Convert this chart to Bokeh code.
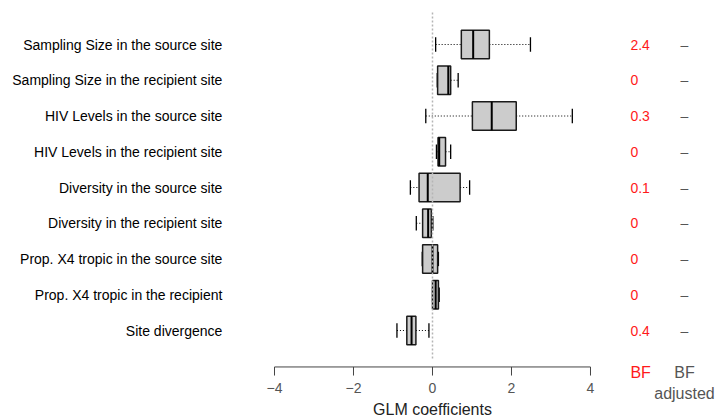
from bokeh.plotting import figure
from bokeh.models import Range1d, ColumnDataSource
from bokeh.core.properties import value
from bokeh.embed import file_html
from bokeh.resources import INLINE

predictors = [
    "Sampling Size in the source site",
    "Sampling Size in the recipient site",
    "HIV Levels in the source site",
    "HIV Levels in the recipient site",
    "Diversity in the source site",
    "Diversity in the recipient site",
    "Prop. X4 tropic in the source site",
    "Prop. X4 tropic in the recipient",
    "Site divergence",
]
whisker_lo = [0.08, 0.12, -0.17, 0.10, -0.56, -0.41, -0.26, 0.00, -0.90]
q1 = [0.73, 0.13, 1.01, 0.14, -0.34, -0.25, -0.25, 0.00, -0.65]
median = [1.03, 0.40, 1.50, 0.17, -0.12, -0.11, 0.00, 0.08, -0.53]
q3 = [1.44, 0.46, 2.12, 0.33, 0.70, -0.03, 0.13, 0.15, -0.42]
whisker_hi = [2.48, 0.65, 3.54, 0.46, 0.94, 0.01, 0.15, 0.17, -0.09]
bf = ["2.4", "0", "0.3", "0", "0.1", "0", "0", "0", "0.4"]
bf_adjusted = ["–"] * 9
x_ticks = [-4, -2, 0, 2, 4]
x_tick_labels = ["−4", "−2", "0", "2", "4"]
x_axis_title = "GLM coefficients"
bf_header = "BF"
bf_adj_header = ["BF", "adjusted"]

FONT = "Liberation Sans"
rows = list(range(1, len(predictors) + 1))
n = len(rows)
BOX_H = 0.8
CAP_H = 0.4
LABEL_X = -5.32
BF_X = 5.01
ADJ_X = 6.38
TITLE_X = 0.0
# vertical positions (in row units) of the axis furniture below the rows
AXIS_Y = 10.02
TICK_END_Y = 10.26
TICK_LABEL_Y = 10.62
AXIS_TITLE_Y = 11.2
HEAD1_Y = 10.175
HEAD2_Y = 10.76
REF_TOP, REF_BOTTOM = 0.105, 9.84

src = ColumnDataSource(dict(
    y=rows, lo=whisker_lo, q1=q1, med=median, q3=q3, hi=whisker_hi,
    top=[r - BOX_H / 2 for r in rows], bot=[r + BOX_H / 2 for r in rows],
    ctop=[r - CAP_H / 2 for r in rows], cbot=[r + CAP_H / 2 for r in rows],
    label=predictors, bf=bf, adj=bf_adjusted,
    lx=[LABEL_X] * n, bx=[BF_X] * n, ax=[ADJ_X] * n,
))

p = figure(width=715, height=419, output_backend="svg", toolbar_location=None,
           x_range=Range1d(-10.937, 7.165), y_range=Range1d(11.4895, -0.2308),
           x_axis_type=None, y_axis_type=None,
           min_border_left=0, min_border_right=0, min_border_top=0, min_border_bottom=0)
p.outline_line_color = None
p.xgrid.visible = False
p.ygrid.visible = False
p.background_fill_color = "white"
p.border_fill_color = "white"

# whiskers
p.segment(x0="lo", x1="q1", y0="y", y1="y", source=src, line_color="black", line_width=1, line_dash="1 2")
p.segment(x0="q3", x1="hi", y0="y", y1="y", source=src, line_color="black", line_width=1, line_dash="1 2")
# caps
p.segment(x0="lo", x1="lo", y0="ctop", y1="cbot", source=src, line_color="black", line_width=1.3)
p.segment(x0="hi", x1="hi", y0="ctop", y1="cbot", source=src, line_color="black", line_width=1.3)
# boxes
p.quad(left="q1", right="q3", top="top", bottom="bot", source=src,
       fill_color="#cccccc", line_color="#1a1a1a", line_width=1.5)
# medians
p.segment(x0="med", x1="med", y0="top", y1="bot", source=src, line_color="black", line_width=2)

# reference line at zero
p.segment(x0=[0], x1=[0], y0=[REF_TOP], y1=[REF_BOTTOM], line_color="#b5b5b5",
          line_width=1.5, line_dash="2 2")

# row labels
p.text(x="lx", y="y", text="label", source=src, text_align="right", text_baseline="middle",
       text_font=value(FONT), text_font_size="14px", text_color="black")
# BF values
p.text(x="bx", y="y", text="bf", source=src, text_align="left", text_baseline="middle",
       text_font=value(FONT), text_font_size="14px", text_color="#ff1a1a")
p.text(x="ax", y="y", text="adj", source=src, text_align="center", text_baseline="middle",
       text_font=value(FONT), text_font_size="14px", text_color="#555555")

# headers
p.text(x=[BF_X], y=[HEAD1_Y], text=[bf_header], text_align="left", text_baseline="middle",
       text_font=value(FONT), text_font_size="16px", text_color="#ff1a1a")
p.text(x=[ADJ_X, ADJ_X], y=[HEAD1_Y, HEAD2_Y], text=bf_adj_header, text_align="center",
       text_baseline="middle", text_font=value(FONT), text_font_size="16px", text_color="#555555")

# x axis (drawn through the plot's scales)
p.segment(x0=[min(x_ticks)], x1=[max(x_ticks)], y0=[AXIS_Y], y1=[AXIS_Y], line_color="#444444", line_width=1)
p.segment(x0=x_ticks, x1=x_ticks, y0=[AXIS_Y] * len(x_ticks), y1=[TICK_END_Y] * len(x_ticks),
          line_color="#444444", line_width=1)
p.text(x=x_ticks, y=[TICK_LABEL_Y] * len(x_ticks), text=x_tick_labels, text_align="center",
       text_baseline="middle", text_font=value(FONT), text_font_size="14px", text_color="#555555")
p.text(x=[TITLE_X], y=[AXIS_TITLE_Y], text=[x_axis_title], text_align="center",
       text_baseline="middle", text_font=value(FONT), text_font_size="16px", text_color="#222222")

open("out.html", "w").write(file_html(p, INLINE))
